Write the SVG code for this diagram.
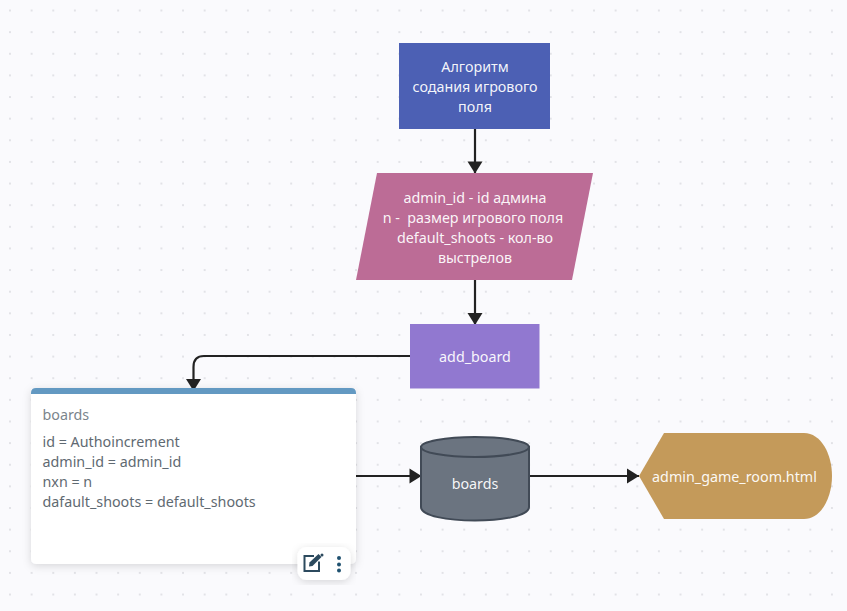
<svg xmlns="http://www.w3.org/2000/svg" width="847" height="611" viewBox="0 0 847 611">
<style>
text{font-family:"Noto Sans","Open Sans",sans-serif;font-size:14.3px}
.w{fill:#fff;text-anchor:middle;fill-opacity:.95}
.g{fill:#5f6a72}
.c{fill:none;stroke:#222;stroke-width:2.2}
</style>
<defs>
<pattern id="dots" x="10" y="10.5" width="21.63" height="21.63" patternUnits="userSpaceOnUse"><circle cx="0" cy="0" r="1.1" fill="#dcdde2"/><circle cx="21.63" cy="0" r="1.1" fill="#dcdde2"/><circle cx="0" cy="21.63" r="1.1" fill="#dcdde2"/><circle cx="21.63" cy="21.63" r="1.1" fill="#dcdde2"/></pattern>
<marker id="arr" markerUnits="userSpaceOnUse" markerWidth="14" markerHeight="16" refX="13" refY="8" orient="auto"><path d="M1 0.5L13 8L1 15.5Z" fill="#222"/></marker>
<filter id="sh" x="-10%" y="-10%" width="120%" height="125%"><feDropShadow dx="0" dy="2" stdDeviation="4" flood-color="#000" flood-opacity=".14"/></filter>
</defs>
<rect width="847" height="611" fill="#fafafd"/>
<rect width="847" height="611" fill="url(#dots)"/>
<g id="connectors">
<path class="c" d="M475 129V173.500" marker-end="url(#arr)"/>
<path class="c" d="M475 280V325" marker-end="url(#arr)"/>
<path class="c" d="M410 356H204Q193.500 356 193.500 367V391" marker-end="url(#arr)"/>
<path class="c" d="M356 476H421.500" marker-end="url(#arr)"/>
<path class="c" d="M529 476H639" marker-end="url(#arr)"/>
</g>
<g id="start"><rect x="399" y="43" width="151" height="86" fill="#4c60b4"/>
<text class="w" x="475" y="71.500">Алгоритм</text><text class="w" x="475" y="91.500">содания игрового</text><text class="w" x="475" y="111.500">поля</text></g>
<g id="input"><path d="M377 173H593L572 280H356Z" fill="#bc6c96"/>
<text class="w" x="475" y="202.500">admin_id - id админа</text><text class="w" x="473" y="223" xml:space="preserve">n -  размер игрового поля</text><text class="w" x="475" y="242.500">default_shoots - кол-во</text><text class="w" x="475" y="262.500">выстрелов</text></g>
<g id="add_board"><rect x="410" y="324" width="129.500" height="64.500" fill="#9178d0"/>
<text class="w" x="475" y="361.500">add_board</text></g>
<g id="boards-note"><rect x="31" y="388" width="325" height="176" rx="5" fill="#fff" filter="url(#sh)"/>
<path d="M31 394V393Q31 388 36 388H351Q356 388 356 393V394Z" fill="#6399c2"/>
<text x="42.500" y="420" fill="#7b858c">boards</text>
<text class="g" x="42.500" y="447">id = Authoincrement</text><text class="g" x="42.500" y="467">admin_id = admin_id</text><text class="g" x="42.500" y="487">nxn = n</text><text class="g" x="42.500" y="507">dafault_shoots = default_shoots</text></g>
<g id="note-toolbar"><rect x="297.500" y="547" width="53" height="33" rx="9" fill="#fff" filter="url(#sh)"/>
<path d="M314 556H304.500V571H319V561.500" fill="none" stroke="#2c4a5e" stroke-width="2"/>
<path d="M309 566.500L309.500 562.500L318.500 554L321.500 557L312.500 566Z" fill="#2c4a5e"/>
<circle cx="322" cy="555" r="1.500" fill="#2c4a5e"/>
<circle cx="339" cy="558" r="2" fill="#1f5170"/><circle cx="339" cy="564.500" r="2" fill="#1f5170"/><circle cx="339" cy="570.500" r="2" fill="#1f5170"/></g>
<g id="boards-db"><path d="M421 447V507C421 525 529 525 529 507V447Z" fill="#6b7480" stroke="#414a56" stroke-width="2"/>
<ellipse cx="475" cy="447" rx="54" ry="10" fill="#6b7480" stroke="#414a56" stroke-width="2"/>
<text class="w" x="475" y="489">boards</text></g>
<g id="admin_game_room"><path d="M639 476L664 433H804C821 433 832 454 832 476C832 498 821 519 804 519H664Z" fill="#c49a5a"/>
<text class="w" x="734.500" y="482">admin_game_room.html</text></g>
</svg>
